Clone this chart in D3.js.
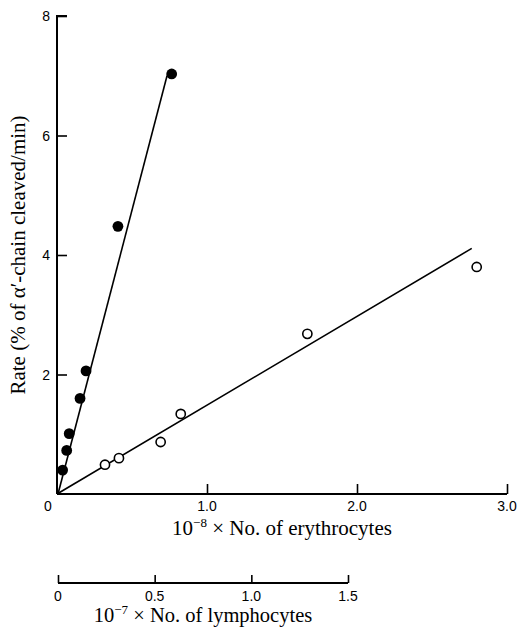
<!DOCTYPE html>
<html>
<head>
<meta charset="utf-8">
<script src="https://cdn.jsdelivr.net/npm/d3@7"></script>
<style>
  html, body { margin: 0; padding: 0; background: #fff; }
  svg { display: block; }
</style>
</head>
<body>
<svg id="chart" width="522" height="629"></svg>
<script>
// ---- data ----
// filled circles: lymphocytes (x in 10^-7 cells), rate in % alpha'-chain cleaved/min
const lymphX = [0.024, 0.045, 0.058, 0.114, 0.145, 0.310, 0.588];
const lymphY = [0.40, 0.73, 1.01, 1.60, 2.06, 4.48, 7.03];
// open circles: erythrocytes (x in 10^-8 cells)
const erythX = [0.32, 0.413, 0.691, 0.825, 1.669, 2.798];
const erythY = [0.49, 0.60, 0.87, 1.34, 2.68, 3.80];
// fitted lines (start, end)
const lymphFitX = [0, 0.564];
const lymphFitY = [0, 7.0];
const erythFitX = [0, 2.765];
const erythFitY = [0, 4.11];
// axis ticks
const yTicks = [2, 4, 6, 8];
const yTickLabels = ["2", "4", "6", "8"];
const erythTicks = [1, 2, 3];
const erythTickLabels = ["1.0", "2.0", "3.0"];
const lymphTicks = [0, 0.5, 1.0, 1.5];
const lymphTickLabels = ["0", "0.5", "1.0", "1.5"];

// ---- scales ----
const svg = d3.select("#chart");
const x0 = 57, x1 = 507, yTop = 16, yBot = 494;
const y = d3.scaleLinear().domain([0, 8]).range([yBot, yTop]);
const xE = d3.scaleLinear().domain([0, 3]).range([x0, x1]);
const xL = d3.scaleLinear().domain([0, 1.5]).range([58, 348]);
const lymphAxisY = 583;

const sans = "'Liberation Sans', Arial, sans-serif";
const serif = "'Liberation Serif', 'Times New Roman', serif";

// ---- y axis ----
const yAxis = d3.axisRight(y).tickValues(yTicks).tickSize(10).tickFormat("");
const gy = svg.append("g").attr("transform", `translate(${x0},0)`).call(yAxis);
gy.select(".domain").attr("d", `M${10},${yTop}H0V${yBot}`).attr("stroke", "#000").attr("stroke-width", 2).attr("fill", "none");
gy.selectAll(".tick line").attr("stroke", "#000").attr("stroke-width", 1.6);
svg.append("g").selectAll("text").data(yTicks).join("text")
  .attr("x", x0 - 7).attr("y", d => y(d) + 5)
  .attr("text-anchor", "end").attr("font-family", sans).attr("font-size", 14)
  .text((d, i) => yTickLabels[i]);

// ---- erythrocyte x axis ----
const xAxisE = d3.axisTop(xE).tickValues(erythTicks).tickSize(10).tickFormat("");
const gx = svg.append("g").attr("transform", `translate(0,${yBot})`).call(xAxisE);
gx.select(".domain").attr("d", `M${x0},0H${x1}`).attr("stroke", "#000").attr("stroke-width", 2);
gx.selectAll(".tick line").attr("stroke", "#000").attr("stroke-width", 1.6);
svg.append("g").selectAll("text").data(erythTicks).join("text")
  .attr("x", d => xE(d)).attr("y", yBot + 17)
  .attr("text-anchor", "middle").attr("font-family", sans).attr("font-size", 14)
  .text((d, i) => erythTickLabels[i]);
svg.append("text").attr("x", x0 - 9).attr("y", yBot + 17)
  .attr("text-anchor", "middle").attr("font-family", sans).attr("font-size", 14).text("0");

const tE = svg.append("text").attr("x", (x0 + x1) / 2).attr("y", yBot + 41)
  .attr("text-anchor", "middle").attr("font-family", serif).attr("font-size", 21);
tE.append("tspan").text("10");
tE.append("tspan").attr("dy", -8).attr("font-size", 13).text("−8");
tE.append("tspan").attr("dy", 8).text(" × No. of erythrocytes");

// ---- lymphocyte x axis ----
const xAxisL = d3.axisTop(xL).tickValues(lymphTicks).tickSize(8).tickFormat("");
const gl = svg.append("g").attr("transform", `translate(0,${lymphAxisY})`).call(xAxisL);
gl.select(".domain").attr("d", `M${xL(0)},0H${xL(1.5)}`).attr("stroke", "#000").attr("stroke-width", 2);
gl.selectAll(".tick line").attr("stroke", "#000").attr("stroke-width", 1.6);
svg.append("g").selectAll("text").data(lymphTicks).join("text")
  .attr("x", d => xL(d)).attr("y", lymphAxisY + 18)
  .attr("text-anchor", "middle").attr("font-family", sans).attr("font-size", 14)
  .text((d, i) => lymphTickLabels[i]);
const tL = svg.append("text").attr("x", (xL(0) + xL(1.5)) / 2).attr("y", lymphAxisY + 39)
  .attr("text-anchor", "middle").attr("font-family", serif).attr("font-size", 20.5);
tL.append("tspan").text("10");
tL.append("tspan").attr("dy", -8).attr("font-size", 13).text("−7");
tL.append("tspan").attr("dy", 8).text(" × No. of lymphocytes");

// ---- y title ----
svg.append("text")
  .attr("transform", `translate(25,${(yTop + yBot) / 2}) rotate(-90)`)
  .attr("text-anchor", "middle").attr("font-family", serif).attr("font-size", 21)
  .text("Rate (% of α′-chain cleaved/min)");

// ---- fit lines ----
const lineL = d3.line().x(d => xL(d[0])).y(d => y(d[1]));
const lineE = d3.line().x(d => xE(d[0])).y(d => y(d[1]));
svg.append("path").datum(d3.zip(lymphFitX, lymphFitY)).attr("d", lineL)
  .attr("stroke", "#000").attr("stroke-width", 1.6).attr("fill", "none");
svg.append("path").datum(d3.zip(erythFitX, erythFitY)).attr("d", lineE)
  .attr("stroke", "#000").attr("stroke-width", 1.6).attr("fill", "none");

// ---- points ----
svg.append("g").selectAll("circle").data(d3.zip(erythX, erythY)).join("circle")
  .attr("cx", d => xE(d[0])).attr("cy", d => y(d[1])).attr("r", 4.6)
  .attr("fill", "#fff").attr("stroke", "#000").attr("stroke-width", 1.6);
svg.append("g").selectAll("circle").data(d3.zip(lymphX, lymphY)).join("circle")
  .attr("cx", d => xL(d[0])).attr("cy", d => y(d[1])).attr("r", 5.4)
  .attr("fill", "#000");
</script>
</body>
</html>
